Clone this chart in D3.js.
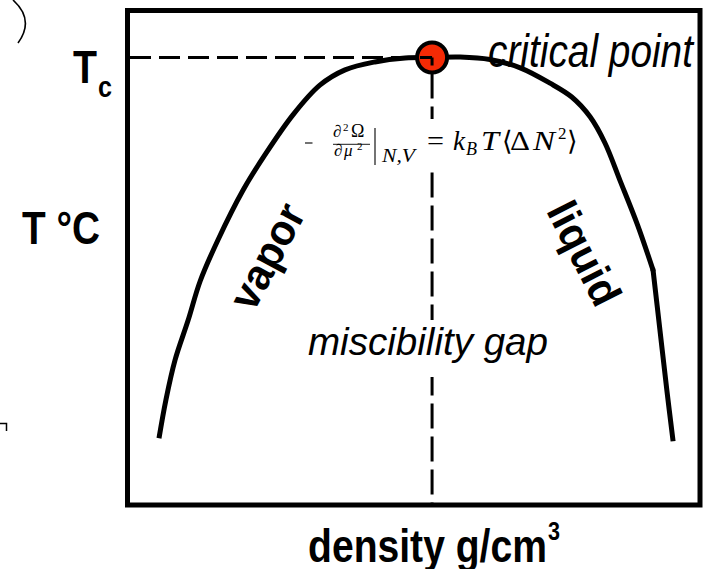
<!DOCTYPE html>
<html>
<head>
<meta charset="utf-8">
<script src="https://cdn.jsdelivr.net/npm/d3@7"></script>
<style>
  html, body { margin: 0; padding: 0; background: #fff; }
  svg { display: block; }
</style>
</head>
<body>
<svg id="chart" width="704" height="569"></svg>
<script>
// Coexistence curve of a fluid: vapor branch, critical point, liquid branch.
// Density and temperature are in relative units (0–100 across the frame).
const vaporDensity = [5.5, 6.7, 8.3, 10.6, 12.7, 15.8, 20.2, 24.0, 28.9, 33.6, 38.0, 43.2, 48.5];
const vaporTemp    = [13.5, 21.2, 29.3, 37.4, 45.3, 53.6, 63.7, 70.8, 78.9, 84.9, 88.0, 89.6, 90.4];

const criticalDensity = 53.2;
const criticalTemp = 90.5;

const liquidDensity = [58.1, 63.3, 68.6, 73.8, 77.6, 80.8, 83.4, 86.0, 89.1, 91.8, 93.0, 94.2, 95.3];
const liquidTemp    = [90.6, 90.1, 88.4, 85.3, 82.5, 78.5, 73.2, 65.7, 56.6, 47.5, 35.4, 23.3, 12.9];

// the liquid branch has a corner at this sample
const liquidCorner = 9;

const svg = d3.select("#chart");
const SANS = "'Liberation Sans', Arial, Helvetica, sans-serif";
const SERIF = "'Liberation Serif', 'DejaVu Serif', serif";

const x = d3.scaleLinear().domain([0, 100]).range([127.5, 700]);
const y = d3.scaleLinear().domain([0, 100]).range([505, 10.5]);

// small fragments in the left margin
svg.append("path")
  .attr("d", "M13,0 Q35,20 18,43")
  .attr("fill", "none").attr("stroke", "#000").attr("stroke-width", 1.6);
svg.append("path")
  .attr("d", "M0,423.5 H6.5 V431")
  .attr("fill", "none").attr("stroke", "#000").attr("stroke-width", 1.5);

// plot frame
svg.append("rect")
  .attr("x", x(0)).attr("y", y(100))
  .attr("width", x(100) - x(0)).attr("height", y(0) - y(100))
  .attr("fill", "none").attr("stroke", "#000").attr("stroke-width", 5);

// binodal curve: smooth part over the dome, then the lower liquid segment
const liquidPts = liquidDensity.map((d, i) => [d, liquidTemp[i]]);
const domePts = vaporDensity.map((d, i) => [d, vaporTemp[i]])
  .concat([[criticalDensity, criticalTemp]])
  .concat(liquidPts.slice(0, liquidCorner + 1));
const tailPts = liquidPts.slice(liquidCorner);

const line = d3.line()
  .x(d => x(d[0])).y(d => y(d[1]))
  .curve(d3.curveCatmullRom.alpha(0.5));

svg.append("path")
  .datum(domePts.concat(tailPts.slice(1, 2)))
  .attr("d", d3.line().x(d => x(d[0])).y(d => y(d[1]))
    .curve(d3.curveCatmullRom.alpha(0.5))(domePts))
  .attr("fill", "none").attr("stroke", "#000").attr("stroke-width", 5)
  .attr("stroke-linejoin", "round");

svg.append("path")
  .datum(tailPts)
  .attr("d", line)
  .attr("fill", "none").attr("stroke", "#000").attr("stroke-width", 5)
  .attr("stroke-linecap", "butt");
// close the joint at the corner
svg.append("circle")
  .attr("cx", x(liquidDensity[liquidCorner])).attr("cy", y(liquidTemp[liquidCorner]))
  .attr("r", 2.5).attr("fill", "#000");

// critical point marker
svg.append("circle")
  .attr("cx", x(criticalDensity)).attr("cy", y(criticalTemp)).attr("r", 15)
  .attr("fill", "#f52a05").attr("stroke", "#000").attr("stroke-width", 4);

// dashed guides to the axes
svg.append("line")
  .attr("x1", x(0) + 2.5).attr("y1", y(criticalTemp))
  .attr("x2", x(criticalDensity)).attr("y2", y(criticalTemp))
  .attr("stroke", "#000").attr("stroke-width", 3).attr("stroke-dasharray", "21,8");
svg.append("line")
  .attr("x1", x(criticalDensity)).attr("y1", y(criticalTemp))
  .attr("x2", x(criticalDensity)).attr("y2", y(0))
  .attr("stroke", "#000").attr("stroke-width", 3)
  .attr("stroke-dasharray", "25,8").attr("stroke-dashoffset", 17);

// white patches behind the in-plot annotations
svg.append("rect").attr("x", 300).attr("y", 119).attr("width", 280).attr("height", 50).attr("fill", "#fff");
svg.append("rect").attr("x", 302).attr("y", 320).attr("width", 252).attr("height", 57).attr("fill", "#fff");

function label(txt, px, py, opts) {
  const t = svg.append("text")
    .attr("x", px).attr("y", py)
    .attr("font-family", opts.family || SANS)
    .attr("font-size", opts.size)
    .attr("font-weight", opts.weight || "normal")
    .attr("font-style", opts.style || "normal")
    .attr("fill", "#000")
    .text(txt);
  if (opts.len) t.attr("textLength", opts.len).attr("lengthAdjust", "spacingAndGlyphs");
  if (opts.anchor) t.attr("text-anchor", opts.anchor);
  return t;
}

// axis titles
label("T", 73, 83, { size: 46, weight: "bold", len: 24 });
label("c", 98, 97, { size: 30, weight: "bold", len: 14 });
label("T °C", 22, 244, { size: 46, weight: "bold", len: 78 });
label("density g/cm", 308, 562, { size: 46, weight: "bold", len: 239 });
label("3", 548, 540, { size: 26, weight: "bold", len: 12 });

// annotations
label("critical point", 488, 67, { size: 46, style: "italic", len: 205 });
label("miscibility gap", 308, 355, { size: 38, style: "italic", len: 240 });

svg.append("text")
  .attr("transform", "translate(274,260) rotate(-62)")
  .attr("dy", "0.16em")
  .attr("text-anchor", "middle")
  .attr("font-family", SANS).attr("font-size", 43).attr("font-weight", "bold")
  .attr("textLength", 113).attr("lengthAdjust", "spacingAndGlyphs")
  .text("vapor");
svg.append("text")
  .attr("transform", "translate(581,255) rotate(63)")
  .attr("dy", "0.26em")
  .attr("text-anchor", "middle")
  .attr("font-family", SANS).attr("font-size", 43).attr("font-weight", "bold")
  .attr("textLength", 111).attr("lengthAdjust", "spacingAndGlyphs")
  .text("liquid");

// fluctuation relation: -d²Ω/dμ² |_{N,V} = k_B T <ΔN²>
const f = svg.append("g").attr("font-family", SERIF).attr("fill", "#000");
function m(txt, px, py, size, style, len) {
  const t = f.append("text").attr("x", px).attr("y", py)
    .attr("font-size", size).attr("font-style", style || "normal").text(txt);
  if (len) t.attr("textLength", len).attr("lengthAdjust", "spacingAndGlyphs");
}
f.append("line").attr("x1", 305).attr("x2", 312.5).attr("y1", 143).attr("y2", 143)
  .attr("stroke", "#000").attr("stroke-width", 1.1);
m("\u2202", 333, 137, 17, "italic");
m("2", 343, 131, 11);
m("\u03A9", 351, 137, 18);
f.append("line").attr("x1", 333).attr("x2", 370).attr("y1", 144.3).attr("y2", 144.3)
  .attr("stroke", "#000").attr("stroke-width", 0.9);
m("\u2202", 334, 156, 17, "italic");
m("\u03BC", 344, 156, 17, "italic");
m("2", 357, 150, 11);
f.append("line").attr("x1", 375).attr("x2", 375).attr("y1", 128).attr("y2", 165)
  .attr("stroke", "#000").attr("stroke-width", 1.1);
m("N,V", 382, 162, 19, "italic", 33);
m("=", 427, 150, 27, "normal", 17);
m("k", 453, 150, 27, "italic");
m("B", 466, 155, 18, "italic");
m("T", 481, 150, 27, "italic", 18);
m("\u27E8", 502, 150, 27);
m("\u0394", 510, 150, 27, "normal", 20);
m("N", 533, 150, 27, "italic", 22);
m("2", 558, 139, 17);
m("\u27E9", 567, 150, 27);
</script>
</body>
</html>
